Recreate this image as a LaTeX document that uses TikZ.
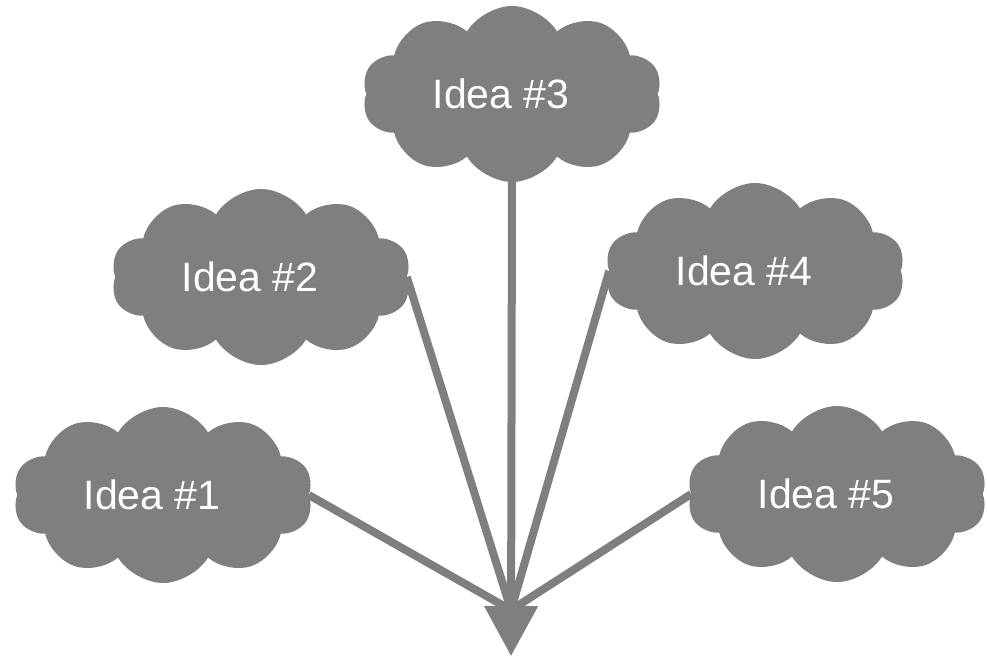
\documentclass[tikz,border=0pt]{standalone}
\usepackage{fontspec}
\setmainfont{Liberation Sans}
\usetikzlibrary{shapes.symbols,arrows.meta}
\definecolor{cloudgray}{HTML}{7F7F7F}
\tikzset{
  idea/.style={cloud, cloud puffs=10, cloud puff arc=118, cloud ignores aspect,
    fill=cloudgray, draw=none, text=white, minimum width=300pt, minimum height=176pt,
    inner sep=0pt, font=\fontsize{41}{49}\selectfont},
  feed/.style={draw=cloudgray, line width=8pt},
  mainarrow/.style={feed, -{Triangle[length=50pt,width=52pt]}}
}
\newcommand{\ideatext}[1]{#1\hspace*{22pt}}
\begin{document}
\begin{tikzpicture}[x=1pt,y=-1pt]
\useasboundingbox (0,0) rectangle (987,657);
\coordinate (meet) at (511,610);
\coordinate (tip) at (511,656);
\node[idea] (c1) at (163,495) {\ideatext{Idea \#1}};
\node[idea] (c2) at (261,277) {\ideatext{Idea \#2}};
\node[idea] (c3) at (512,94) {\ideatext{Idea \#3}};
\node[idea] (c4) at (755,271) {\ideatext{Idea \#4}};
\node[idea] (c5) at (837,494) {\ideatext{Idea \#5}};
\draw[feed] (c1.east) -- (meet);
\draw[feed] (c2.east) -- (meet);
\draw[feed] (c4.west) -- (meet);
\draw[feed] (c5.west) -- (meet);
\draw[mainarrow] (c3.south) -- (tip);
\end{tikzpicture}
\end{document}
